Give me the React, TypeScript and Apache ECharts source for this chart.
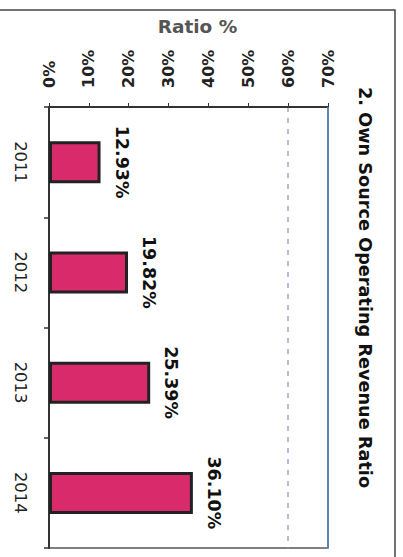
import React, { useEffect, useRef } from "react";
import * as echarts from "echarts";

// Own source operating revenue ratio by year
const years = ["2011", "2012", "2013", "2014"];
const ratios = [12.93, 19.82, 25.39, 36.1];
const axisMin = 0;
const axisMax = 70;
const axisStep = 10;
const chartTitle = "2. Own Source Operating Revenue Ratio";
const axisTitle = "Ratio %";

const FONT = "DejaVu Sans";

export default function App() {
  const ref = useRef<HTMLDivElement>(null);

  useEffect(() => {
    if (!ref.current) return;
    const chart = echarts.init(ref.current, null, { renderer: "svg" });

    // split lines: only the 60% line is visible as a faint dashed guide
    const splitColors = Array.from(
      { length: (axisMax - axisMin) / axisStep + 1 },
      (_, i) => (axisMin + i * axisStep === 60 ? "rgba(170,150,205,0.7)" : "rgba(0,0,0,0)")
    );

    chart.setOption({
      animation: false,
      backgroundColor: "#ffffff",
      grid: {
        left: 49,
        right: 75,
        top: 107,
        bottom: 9,
        show: true,
        borderColor: "#555",
        borderWidth: 1.5,
      },
      xAxis: {
        type: "value",
        position: "top",
        min: axisMin,
        max: axisMax,
        interval: axisStep,
        axisLine: { show: true, lineStyle: { color: "#333", width: 2 } },
        axisTick: { show: true, length: 4, lineStyle: { color: "#333", width: 1 } },
        axisLabel: {
          rotate: -90,
          margin: 19,
          formatter: "{value}%",
          fontFamily: FONT,
          fontWeight: "bold",
          fontSize: 16,
          color: "#222",
        },
        splitLine: {
          show: true,
          lineStyle: { color: splitColors, type: [5, 6], width: 2 },
        },
      },
      yAxis: {
        type: "category",
        data: years,
        inverse: true,
        axisLine: { show: true, lineStyle: { color: "#333", width: 2 } },
        axisTick: { show: true, length: 5, lineStyle: { color: "#333", width: 1.5 } },
        axisLabel: {
          rotate: -90,
          margin: 20,
          fontFamily: FONT,
          fontSize: 16.5,
          color: "#222",
        },
      },
      series: [
        {
          type: "bar",
          data: ratios,
          barWidth: 42,
          itemStyle: {
            color: "#d92a6c",
            borderColor: "#222",
            borderWidth: 3,
          },
          label: {
            show: true,
            position: "right",
            distance: 12,
            rotate: -90,
            align: "center",
            verticalAlign: "bottom",
            formatter: (p: any) => `${Number(p.value).toFixed(2)}%`,
            fontFamily: FONT,
            fontWeight: "bold",
            fontSize: 17.5,
            color: "#111",
          },
          markLine: {
            silent: true,
            symbol: "none",
            label: { show: false },
            lineStyle: { color: "#5b86b3", type: "solid", width: 2 },
            data: [{ xAxis: axisMax }],
          },
        },
      ],
      graphic: [
        {
          type: "rect",
          shape: { x: -5, y: 10, width: 400, height: 570 },
          style: { fill: "none", stroke: "#444", lineWidth: 1.5 },
          silent: true,
        },
        {
          type: "text",
          x: 197.5,
          y: 26,
          style: {
            text: axisTitle,
            textAlign: "center",
            textVerticalAlign: "middle",
            font: `bold 18.5px "${FONT}"`,
            fill: "#555",
          },
        },
        {
          type: "text",
          x: 365,
          y: 287.5,
          rotation: -Math.PI / 2,
          style: {
            text: chartTitle,
            textAlign: "center",
            textVerticalAlign: "middle",
            font: `bold 17.7px "${FONT}"`,
            fill: "#111",
          },
        },
      ],
    });

    return () => chart.dispose();
  }, []);

  return (
    <div
      ref={ref}
      style={{ position: "fixed", left: 0, top: 0, width: 403, height: 557, background: "#fff" }}
    />
  );
}
